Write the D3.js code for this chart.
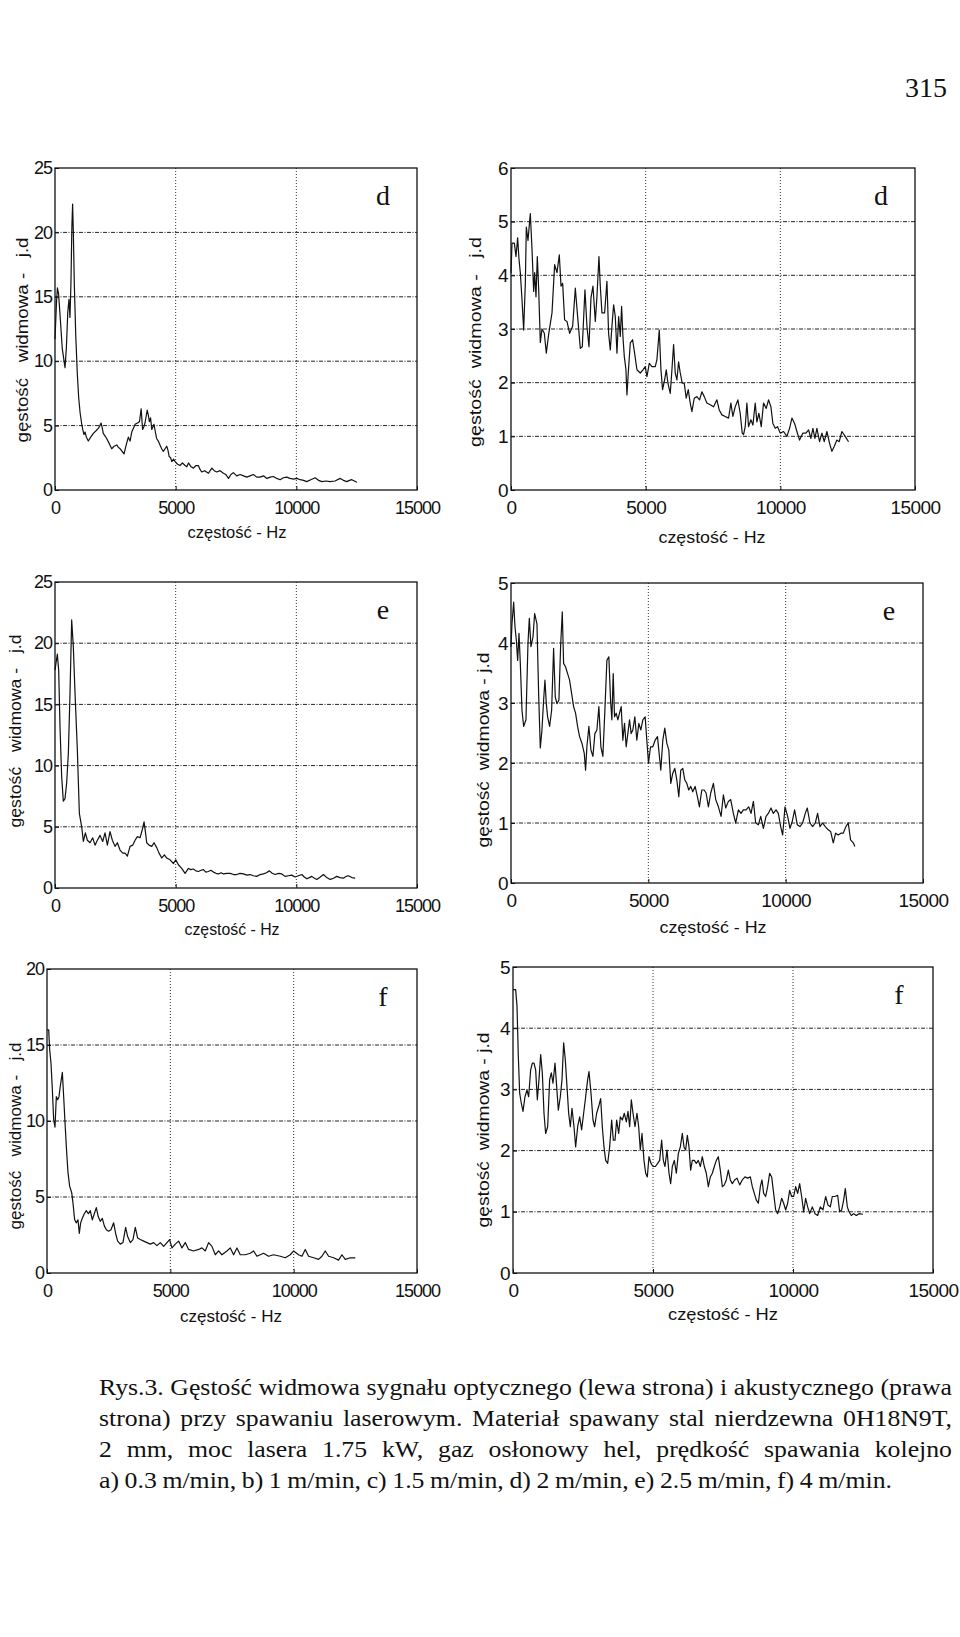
<!DOCTYPE html>
<html>
<head>
<meta charset="utf-8">
<script src="https://cdn.jsdelivr.net/npm/d3@7"></script>
<style>
  body { margin: 0; background: #fff; }
  svg { display: block; }
  .tick-opt { font-family: "Liberation Sans", Arial, sans-serif; font-size: 18px; letter-spacing: -1px; }
  .tick-acu { font-family: "Liberation Sans", Arial, sans-serif; font-size: 19px; letter-spacing: -0.6px; }
  .lab { font-family: "Liberation Sans", Arial, sans-serif; font-size: 17px; white-space: pre; }
  .letter { font-family: "Liberation Serif", "Times New Roman", serif; font-size: 28px; }
  .caption { font-family: "Liberation Serif", "Times New Roman", serif; font-size: 23px; }
</style>
</head>
<body>
<svg id="page" width="960" height="1637"></svg>
<script>
// osie wspólne
const xTicks = [0, 5000, 10000, 15000];
const yTicks25 = [0, 5, 10, 15, 20, 25];
const yTicks20 = [0, 5, 10, 15, 20];
const yTicks6 = [0, 1, 2, 3, 4, 5, 6];
const yTicks5 = [0, 1, 2, 3, 4, 5];
const panelLetters = ["d", "e", "f"];
const xLabel = "częstość - Hz";
const pageNumber = "315";

// sygnał optyczny (lewa strona) [Hz, j.d]
const optD = [[0,11.7],[60,14.5],[100,15.7],[150,15.2],[230,13],[300,11],[415,9.5],[470,11],[530,13.8],[580,14.8],[620,13.4],[660,16],[700,20.5],[730,22.2],[760,20],[800,16],[860,12],[925,9],[980,7.2],[1040,6],[1100,5.2],[1150,4.7],[1200,4.3],[1245,4.5],[1300,4.1],[1380,3.8],[1480,4.1],[1590,4.4],[1700,4.6],[1800,4.8],[1860,5],[1910,5.2],[1960,4.8],[2000,4.4],[2070,4.2],[2140,4.0],[2250,3.6],[2350,3.2],[2450,3.4],[2560,3.5],[2630,3.3],[2700,3.2],[2780,3.0],[2860,2.8],[2950,3.5],[3040,4.1],[3110,3.8],[3180,4.5],[3250,4.8],[3320,5.1],[3420,5.2],[3500,5.3],[3570,6.3],[3630,4.7],[3680,4.9],[3730,5.2],[3820,6.2],[3870,5.8],[3910,5.3],[3960,5.6],[4010,4.7],[4100,5.1],[4150,4.6],[4210,4.0],[4280,3.8],[4350,3.5],[4420,3.2],[4490,3.0],[4560,3.2],[4630,3.4],[4680,3.1],[4730,2.6],[4790,2.5],[4840,2.2],[4910,2.4],[4980,2.2],[5080,2.0],[5180,1.9],[5280,2.1],[5390,1.9],[5460,1.8],[5530,2.1],[5640,1.8],[5740,1.7],[5840,1.9],[5940,1.9],[6010,1.6],[6080,1.4],[6200,1.5],[6360,1.3],[6430,1.5],[6500,1.7],[6600,1.5],[6700,1.4],[6840,1.5],[6980,1.3],[7080,1.2],[7190,0.9],[7290,1.2],[7390,1.35],[7530,1.1],[7670,1.2],[7810,1.1],[7950,1.0],[8080,1.1],[8220,1.2],[8360,1.0],[8500,1.0],[8640,1.1],[8780,0.9],[8920,1.0],[9050,1.05],[9190,0.9],[9330,0.8],[9460,0.95],[9600,1.0],[9740,0.9],[9880,0.85],[10020,0.9],[10160,0.8],[10300,0.75],[10430,0.65],[10600,0.8],[10780,0.95],[10920,0.75],[11060,0.65],[11230,0.7],[11400,0.65],[11600,0.7],[11820,0.9],[11950,0.75],[12090,0.65],[12200,0.75],[12300,0.8],[12510,0.6]];

const optE = [[0,17.8],[50,18.5],[97,19.1],[152,17.8],[207,13.2],[276,9.1],[345,7.1],[415,7.3],[484,8.6],[553,11.0],[622,15.9],[691,21.9],[760,19.7],[830,15.9],[926,11.3],[1009,6.1],[1106,5.0],[1175,3.8],[1258,4.5],[1341,3.9],[1451,3.7],[1562,4.1],[1658,3.5],[1755,3.9],[1866,4.3],[1976,3.8],[2073,4.5],[2170,3.5],[2280,4.6],[2377,3.9],[2488,3.4],[2584,3.7],[2695,3.1],[2805,2.85],[2902,2.85],[2999,2.6],[3110,3.4],[3220,3.5],[3317,3.9],[3414,4.2],[3524,4.1],[3621,4.8],[3690,5.4],[3745,4.6],[3800,3.7],[3897,3.5],[4008,3.4],[4104,3.7],[4215,3.3],[4311,2.85],[4422,2.45],[4533,2.7],[4630,2.45],[4768,2.3],[4906,2.0],[5003,2.3],[5113,1.9],[5251,1.6],[5390,1.2],[5528,1.6],[5630,1.5],[5735,1.55],[5840,1.4],[5943,1.35],[6050,1.45],[6150,1.5],[6250,1.3],[6357,1.35],[6460,1.45],[6565,1.3],[6670,1.2],[6772,1.15],[6880,1.25],[6979,1.15],[7120,1.2],[7256,1.2],[7400,1.1],[7532,1.1],[7670,1.2],[7808,1.15],[7950,1.05],[8085,1.1],[8220,1.0],[8361,0.95],[8500,1.1],[8638,1.15],[8760,1.25],[8886,1.4],[9000,1.2],[9121,1.1],[9260,1.2],[9398,1.15],[9530,0.95],[9674,1.0],[9810,1.05],[9950,0.9],[10090,1.0],[10227,1.1],[10330,0.9],[10434,0.75],[10540,0.85],[10641,0.95],[10750,0.8],[10848,0.7],[10990,0.9],[11124,1.1],[11260,0.85],[11400,0.7],[11540,0.8],[11677,0.95],[11810,0.85],[11953,0.8],[12060,0.95],[12160,1.0],[12300,0.85],[12437,0.8]];

const optF = [[0,16.0],[68,16.0],[108,14.7],[162,13.8],[216,12.1],[270,10.1],[324,9.6],[378,11.6],[432,11.4],[486,11.6],[540,12.3],[622,13.2],[676,11.6],[730,9.9],[784,8.3],[851,6.6],[919,5.7],[1000,5.3],[1054,4.6],[1121,3.5],[1189,3.3],[1256,3.5],[1310,2.6],[1364,3.3],[1432,3.6],[1513,3.9],[1594,4.1],[1675,3.9],[1756,4.1],[1837,3.5],[1918,3.9],[1999,4.3],[2080,3.7],[2161,3.4],[2242,3.6],[2324,3.1],[2405,2.85],[2499,2.75],[2594,2.85],[2702,3.3],[2783,2.6],[2864,2.1],[2972,1.9],[3080,2.0],[3188,3.0],[3269,2.4],[3377,2.0],[3485,2.2],[3580,3.0],[3674,2.3],[3782,2.2],[3918,2.1],[4053,2.0],[4188,1.9],[4323,2.0],[4458,1.8],[4593,2.0],[4728,1.75],[4863,2.0],[4972,2.2],[5066,1.65],[5201,1.9],[5336,2.1],[5471,1.65],[5606,2.0],[5741,1.55],[5944,1.45],[6147,1.55],[6282,1.65],[6417,1.45],[6552,2.0],[6687,1.75],[6822,1.2],[6957,1.45],[7092,1.2],[7295,1.45],[7430,1.65],[7565,1.2],[7700,1.65],[7835,1.2],[8038,1.2],[8241,1.3],[8376,1.45],[8511,1.1],[8781,1.3],[8984,1.1],[9187,1.2],[9458,1.1],[9660,1.0],[9863,1.2],[9998,1.45],[10200,1.2],[10335,1.1],[10470,1.55],[10605,1.1],[10808,1.0],[11011,0.9],[11146,1.1],[11281,1.45],[11416,1.1],[11619,1.0],[11821,0.85],[11956,1.2],[12091,0.9],[12294,1.0],[12497,1.0]];

// sygnał akustyczny (prawa strona) [Hz, j.d]
const acuD = [[0,4.04],[37,4.6],[124,4.6],[185,4.35],[247,4.7],[297,4.3],[346,4.05],[408,3.55],[470,2.98],[532,3.85],[569,4.9],[631,4.65],[717,5.15],[779,4.5],[841,3.7],[878,4.05],[928,3.6],[977,4.35],[1027,3.75],[1089,2.75],[1150,3.0],[1237,2.92],[1311,2.55],[1398,2.9],[1522,3.3],[1620,4.2],[1707,4.05],[1794,4.38],[1856,3.8],[1917,3.85],[1991,3.17],[2078,3.14],[2177,2.92],[2289,3.05],[2388,3.76],[2474,3.23],[2573,2.64],[2647,2.67],[2746,3.73],[2820,3.05],[2895,2.67],[2969,3.58],[3043,3.8],[3130,3.14],[3191,3.6],[3266,4.35],[3315,3.8],[3377,3.3],[3476,3.3],[3562,3.89],[3624,2.92],[3686,2.61],[3748,3.05],[3810,3.45],[3872,3.23],[3934,2.55],[3996,3.23],[4057,2.86],[4107,3.42],[4156,2.86],[4206,2.49],[4268,2.24],[4305,1.77],[4354,2.18],[4429,2.74],[4515,2.8],[4589,2.55],[4676,2.24],[4800,2.18],[4899,2.24],[4985,2.3],[5047,2.11],[5134,2.36],[5233,2.3],[5356,2.3],[5418,2.43],[5505,2.98],[5567,2.24],[5628,1.87],[5703,2.05],[5765,2.24],[5826,1.99],[5913,1.8],[5975,2.24],[6037,2.71],[6098,2.18],[6160,2.05],[6222,2.39],[6284,2.18],[6358,1.99],[6432,1.99],[6506,1.71],[6581,1.87],[6655,1.62],[6717,1.46],[6803,1.71],[6902,1.74],[7001,1.68],[7088,1.83],[7175,1.74],[7273,1.62],[7397,1.59],[7521,1.55],[7645,1.68],[7732,1.49],[7831,1.4],[7954,1.37],[8078,1.34],[8164,1.62],[8238,1.37],[8325,1.55],[8424,1.68],[8510,1.43],[8585,1.06],[8634,1.03],[8696,1.18],[8758,1.62],[8820,1.18],[8906,1.31],[8981,1.21],[9068,1.62],[9130,1.27],[9204,1.43],[9291,1.18],[9377,1.62],[9476,1.52],[9563,1.68],[9650,1.55],[9724,1.24],[9811,1.15],[9897,1.18],[9996,1.06],[10120,1.09],[10244,1.0],[10343,1.15],[10430,1.34],[10529,1.24],[10615,1.09],[10714,0.93],[10838,1.06],[10950,1.06],[11049,1.12],[11135,0.96],[11210,1.15],[11284,0.96],[11358,1.15],[11457,0.9],[11544,1.06],[11630,0.9],[11729,1.09],[11828,0.87],[11914,0.72],[12001,0.81],[12098,0.93],[12186,0.9],[12285,1.09],[12409,1.0],[12532,0.9]];

const acuE = [[0,3.94],[36,4.32],[97,4.68],[145,4.27],[194,4.05],[242,3.71],[291,4.16],[339,3.66],[400,2.88],[461,2.61],[545,2.72],[618,3.99],[667,4.41],[727,3.94],[800,4.1],[861,4.49],[945,4.32],[1006,3.16],[1067,2.25],[1127,2.55],[1188,3.05],[1236,3.38],[1285,2.99],[1333,2.77],[1406,2.61],[1479,2.88],[1551,3.91],[1612,3.1],[1673,2.99],[1745,3.05],[1806,3.94],[1867,4.52],[1915,3.66],[1988,3.6],[2061,3.49],[2133,3.38],[2206,3.16],[2279,2.94],[2351,2.83],[2424,2.61],[2497,2.44],[2582,2.33],[2667,2.16],[2715,1.88],[2763,2.27],[2836,2.61],[2909,2.22],[2982,2.11],[3054,2.49],[3127,2.55],[3200,2.94],[3272,2.27],[3345,2.11],[3418,2.88],[3491,3.71],[3563,3.77],[3624,3.05],[3672,2.72],[3721,3.49],[3769,2.77],[3830,2.83],[3890,2.72],[3951,2.83],[4012,2.94],[4072,2.38],[4133,2.66],[4194,2.27],[4254,2.49],[4315,2.72],[4375,2.49],[4436,2.55],[4509,2.77],[4581,2.38],[4654,2.66],[4727,2.55],[4800,2.72],[4884,2.77],[4945,2.38],[5006,2.0],[5079,2.27],[5163,2.27],[5248,2.38],[5333,2.44],[5393,2.16],[5454,1.88],[5527,2.38],[5599,2.58],[5672,2.33],[5745,2.22],[5818,1.66],[5890,1.83],[5963,1.91],[6036,1.72],[6109,1.44],[6181,1.88],[6254,1.91],[6327,1.72],[6400,1.66],[6472,1.55],[6545,1.61],[6618,1.52],[6703,1.61],[6787,1.44],[6860,1.27],[6945,1.55],[7030,1.55],[7103,1.5],[7187,1.27],[7272,1.5],[7369,1.66],[7454,1.39],[7551,1.27],[7648,1.11],[7733,1.47],[7817,1.25],[7914,1.36],[7999,1.39],[8096,1.16],[8181,1.0],[8278,1.22],[8375,1.16],[8460,1.22],[8557,1.22],[8654,1.27],[8739,1.16],[8824,1.36],[8909,1.0],[9006,0.97],[9091,1.11],[9188,0.91],[9285,1.11],[9369,1.16],[9466,1.25],[9551,1.16],[9648,1.22],[9733,1.16],[9818,0.94],[9891,0.8],[9975,1.27],[10072,1.11],[10157,0.91],[10242,1.03],[10326,1.22],[10423,0.97],[10520,0.94],[10617,1.0],[10714,1.16],[10787,1.25],[10884,1.0],[10981,0.94],[11078,1.0],[11163,1.16],[11248,0.94],[11345,1.0],[11442,0.94],[11539,0.89],[11636,0.86],[11733,0.67],[11818,0.83],[11915,0.8],[12012,0.83],[12096,0.83],[12193,0.94],[12278,1.0],[12363,0.72],[12460,0.67],[12520,0.61]];

const acuF = [[0,4.63],[36,4.63],[95,4.63],[143,4.36],[190,3.54],[238,2.94],[298,2.77],[357,2.64],[428,2.88],[500,2.99],[559,2.88],[631,3.32],[690,3.43],[750,3.43],[809,3.32],[869,2.83],[928,3.16],[988,3.57],[1047,3.27],[1107,2.61],[1166,2.28],[1238,2.39],[1309,3.16],[1369,3.27],[1428,3.1],[1500,3.43],[1559,3.05],[1619,2.66],[1690,2.88],[1750,3.16],[1809,3.76],[1869,3.48],[1928,3.05],[1988,2.61],[2047,2.39],[2107,2.69],[2178,2.39],[2238,2.06],[2309,2.39],[2381,2.55],[2452,2.34],[2523,2.61],[2595,2.88],[2666,3.16],[2714,3.29],[2785,2.94],[2857,2.5],[2916,2.39],[2988,2.61],[3059,2.72],[3131,2.85],[3190,2.39],[3250,2.06],[3309,1.84],[3381,1.79],[3452,2.06],[3524,2.5],[3583,2.17],[3643,2.17],[3702,2.5],[3774,2.28],[3833,2.55],[3905,2.5],[3976,2.61],[4048,2.47],[4107,2.64],[4167,2.39],[4226,2.83],[4286,2.61],[4357,2.39],[4428,2.61],[4488,2.39],[4547,2.01],[4607,2.28],[4678,1.84],[4738,1.63],[4797,1.57],[4857,1.9],[4928,1.79],[5000,1.74],[5083,1.74],[5166,1.79],[5238,1.84],[5309,2.17],[5369,1.84],[5428,1.74],[5500,2.01],[5571,1.63],[5631,1.46],[5690,1.74],[5762,1.84],[5833,1.63],[5905,1.95],[5976,2.06],[6047,2.28],[6107,2.06],[6166,2.01],[6226,2.25],[6285,2.06],[6345,1.68],[6404,1.84],[6476,1.84],[6547,1.79],[6619,1.84],[6690,1.74],[6761,1.9],[6833,1.74],[6904,1.63],[6976,1.41],[7047,1.57],[7119,1.63],[7190,1.74],[7262,1.84],[7333,1.9],[7404,1.68],[7476,1.41],[7547,1.44],[7619,1.52],[7690,1.68],[7762,1.52],[7833,1.46],[7916,1.52],[8000,1.55],[8095,1.44],[8190,1.52],[8285,1.57],[8381,1.55],[8476,1.57],[8547,1.41],[8619,1.3],[8690,1.19],[8762,1.14],[8833,1.41],[8893,1.52],[8952,1.3],[9024,1.25],[9095,1.41],[9166,1.63],[9238,1.57],[9309,1.3],[9381,1.03],[9452,0.97],[9524,1.08],[9595,1.22],[9666,1.14],[9738,1.03],[9809,1.14],[9881,1.35],[9952,1.25],[10024,1.25],[10095,1.41],[10166,1.3],[10238,1.46],[10309,1.25],[10381,1.0],[10452,1.22],[10524,1.08],[10595,0.97],[10690,1.08],[10785,0.97],[10881,0.94],[10976,1.08],[11071,1.03],[11166,1.25],[11250,1.11],[11333,1.08],[11404,1.25],[11500,1.25],[11595,1.27],[11666,1.0],[11738,1.03],[11809,1.19],[11868,1.38],[11940,1.08],[12000,1.0],[12083,0.94],[12166,0.97],[12262,0.94],[12357,0.97],[12500,0.96]];

const captionLines = [
  "Rys.3. Gęstość widmowa sygnału optycznego (lewa strona) i akustycznego (prawa",
  "strona) przy spawaniu laserowym. Materiał spawany stal nierdzewna 0H18N9T,",
  "2 mm, moc lasera 1.75 kW, gaz osłonowy hel, prędkość spawania kolejno",
  "a) 0.3 m/min, b) 1 m/min, c) 1.5 m/min, d) 2 m/min, e) 2.5 m/min, f) 4 m/min."
];

const svg = d3.select("#page");

// układ paneli (piksele strony)
const panels = [
  {data: optD, x0: 55, x1: 417, y0: 168, y1: 490, yMax: 25, yt: yTicks25, letter: panelLetters[0], cls: "tick-opt",
   ylab: "gęstość   widmowa -   j.d", ylx: 28, yly: 340, ylw: 205, xly: 538, xlx: 237, xlw: 99},
  {data: acuD, x0: 511, x1: 915, y0: 168, y1: 490, yMax: 6, yt: yTicks6, letter: panelLetters[0], cls: "tick-acu",
   ylab: "gęstość  widmowa -   j.d", ylx: 481, yly: 342, ylw: 210, xly: 543, xlx: 712, xlw: 107},
  {data: optE, x0: 55, x1: 417, y0: 582, y1: 888, yMax: 25, yt: yTicks25, letter: panelLetters[1], cls: "tick-opt",
   ylab: "gęstość   widmowa -   j.d", ylx: 21, yly: 731, ylw: 193, xly: 935, xlx: 232, xlw: 95},
  {data: acuE, x0: 511, x1: 923, y0: 583, y1: 883, yMax: 5, yt: yTicks5, letter: panelLetters[1], cls: "tick-acu",
   ylab: "gęstość  widmowa - j.d", ylx: 489, yly: 750, ylw: 195, xly: 933, xlx: 713, xlw: 107},
  {data: optF, x0: 47, x1: 417, y0: 969, y1: 1273, yMax: 20, yt: yTicks20, letter: panelLetters[2], cls: "tick-opt",
   ylab: "gęstość   widmowa -   j.d", ylx: 21, yly: 1136, ylw: 187, xly: 1322, xlx: 231, xlw: 102},
  {data: acuF, x0: 513, x1: 933, y0: 967, y1: 1273, yMax: 5, yt: yTicks5, letter: panelLetters[2], cls: "tick-acu",
   ylab: "gęstość  widmowa - j.d", ylx: 489, yly: 1130, ylw: 195, xly: 1320, xlx: 723, xlw: 110}
];

function drawPanel(p) {
  const x = d3.scaleLinear().domain([0, 15000]).range([p.x0, p.x1]);
  const y = d3.scaleLinear().domain([0, p.yMax]).range([p.y1, p.y0]);
  const g = svg.append("g");

  // siatka
  g.selectAll(".hg").data(p.yt.slice(1, -1)).join("line")
    .attr("x1", p.x0).attr("x2", p.x1)
    .attr("y1", d => y(d)).attr("y2", d => y(d))
    .attr("stroke", "#222").attr("stroke-width", 1)
    .attr("stroke-dasharray", "4,1.5,1,1.5");
  g.selectAll(".vg").data(xTicks.slice(1, -1)).join("line")
    .attr("y1", p.y0).attr("y2", p.y1)
    .attr("x1", d => x(d)).attr("x2", d => x(d))
    .attr("stroke", "#333").attr("stroke-width", 1)
    .attr("stroke-dasharray", "1,2");

  // osie (ticki do wewnątrz)
  g.append("g").attr("class", p.cls)
    .attr("transform", `translate(0,${p.y1})`)
    .call(d3.axisBottom(x).tickValues(xTicks).tickSize(-4).tickPadding(11).tickFormat(d3.format("d")))
    .call(a => a.select(".domain").remove());
  g.append("g").attr("class", p.cls)
    .attr("transform", `translate(${p.x0},0)`)
    .call(d3.axisLeft(y).tickValues(p.yt).tickSize(-4).tickPadding(3).tickFormat(d3.format("d")))
    .call(a => a.select(".domain").remove());
  g.selectAll(".tick line").attr("stroke", "#111");
  g.selectAll(".tick text").attr("fill", "#111");
  g.selectAll("." + p.cls).attr("font-family", null).attr("font-size", null);

  // ramka
  g.append("rect")
    .attr("x", p.x0).attr("y", p.y0)
    .attr("width", p.x1 - p.x0).attr("height", p.y1 - p.y0)
    .attr("fill", "none").attr("stroke", "#111").attr("stroke-width", 1.3);

  // krzywa
  const line = d3.line().x(d => x(d[0])).y(d => y(d[1]));
  g.append("path").datum(p.data)
    .attr("d", line)
    .attr("fill", "none").attr("stroke", "#111").attr("stroke-width", 1.2)
    .attr("stroke-linejoin", "round");

  // litera panelu
  g.append("text").attr("class", "letter")
    .attr("x", p.x1 - 34).attr("y", p.y0 + 37)
    .attr("text-anchor", "middle").attr("fill", "#111")
    .text(p.letter);

  // opisy osi
  g.append("text").attr("class", "lab")
    .attr("x", p.xlx).attr("y", p.xly)
    .attr("text-anchor", "middle").attr("fill", "#111")
    .attr("textLength", p.xlw).attr("lengthAdjust", "spacingAndGlyphs")
    .text(xLabel);
  g.append("text").attr("class", "lab")
    .attr("xml:space", "preserve")
    .attr("transform", `translate(${p.ylx},${p.yly}) rotate(-90)`)
    .attr("text-anchor", "middle").attr("fill", "#111")
    .attr("textLength", p.ylw).attr("lengthAdjust", "spacingAndGlyphs")
    .text(p.ylab);
}

panels.forEach(drawPanel);

// numer strony
svg.append("text")
  .attr("x", 947).attr("y", 97)
  .attr("text-anchor", "end")
  .style("font-family", "'Liberation Serif', serif").style("font-size", "28px")
  .attr("fill", "#111")
  .text(pageNumber);

// podpis - skan jest rozciągnięty w poziomie, wyrównanie słowo po słowie
const capX0 = 99;
const capEnds = [952, 952, 952, 892];
const capBase = [1395, 1426, 1457, 1488];
const capG = svg.append("g");
// szerokość naturalna pierwszego wiersza -> skala pozioma
const probe = capG.append("text").attr("class", "caption").text(captionLines[0]);
const sx = (capEnds[0] - capX0) / probe.node().getComputedTextLength();
probe.remove();
capG.attr("transform", `translate(${capX0},0) scale(${sx},1)`);

captionLines.forEach(function(txt, i) {
  const words = txt.split(" ");
  const nodes = words.map(w => capG.append("text").attr("class", "caption")
    .attr("y", capBase[i]).attr("fill", "#111").text(w));
  const widths = nodes.map(n => n.node().getComputedTextLength());
  const gap = ((capEnds[i] - capX0) / sx - d3.sum(widths)) / (words.length - 1);
  let cx = 0;
  nodes.forEach(function(n, k) {
    n.attr("x", cx);
    cx += widths[k] + gap;
  });
});
</script>
</body>
</html>
